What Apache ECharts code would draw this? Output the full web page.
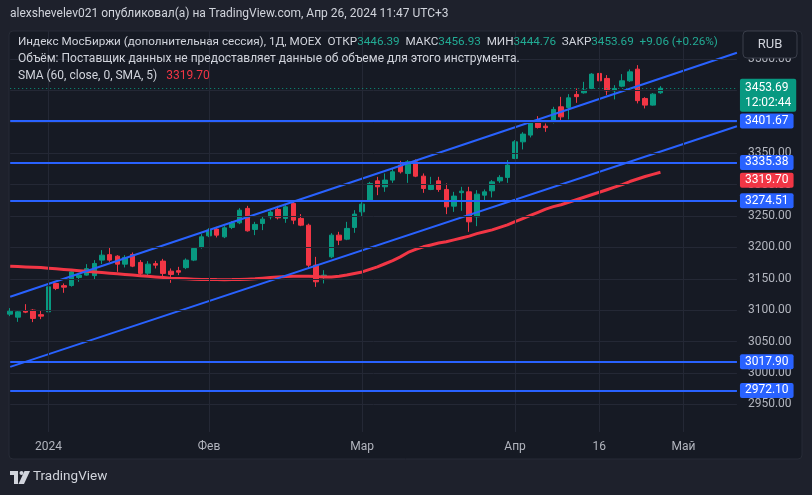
<!DOCTYPE html>
<html><head><meta charset="utf-8">
<script src="https://cdn.jsdelivr.net/npm/echarts@6/dist/echarts.min.js"></script>
<style>html,body{margin:0;padding:0;background:#1e212c;}#c{width:812px;height:495px;}</style>
</head><body><div id="c"></div>
<script>
// ---- categories (trading days; last 10 are empty future slots) ----
const categories = [
 '2023-12-25','2023-12-26','2023-12-27','2023-12-28','2023-12-29',
 '2024-01-03','2024-01-04','2024-01-05','2024-01-08','2024-01-09','2024-01-10','2024-01-11','2024-01-12',
 '2024-01-15','2024-01-16','2024-01-17','2024-01-18','2024-01-19','2024-01-22','2024-01-23','2024-01-24',
 '2024-01-25','2024-01-26','2024-01-29','2024-01-30','2024-01-31',
 '2024-02-01','2024-02-02','2024-02-05','2024-02-06','2024-02-07','2024-02-08','2024-02-09','2024-02-12',
 '2024-02-13','2024-02-14','2024-02-15','2024-02-16','2024-02-19','2024-02-20','2024-02-21','2024-02-22',
 '2024-02-26','2024-02-27','2024-02-28','2024-02-29',
 '2024-03-01','2024-03-04','2024-03-05','2024-03-06','2024-03-07','2024-03-11','2024-03-12','2024-03-13',
 '2024-03-14','2024-03-15','2024-03-18','2024-03-19','2024-03-20','2024-03-21','2024-03-22','2024-03-25',
 '2024-03-26','2024-03-27','2024-03-28','2024-03-29',
 '2024-04-01','2024-04-02','2024-04-03','2024-04-04','2024-04-05','2024-04-08','2024-04-09','2024-04-10',
 '2024-04-11','2024-04-12','2024-04-15','2024-04-16','2024-04-17','2024-04-18','2024-04-19','2024-04-22',
 '2024-04-23','2024-04-24','2024-04-25','2024-04-26',
 '2024-04-29','2024-04-30','2024-05-01','2024-05-02','2024-05-03','2024-05-06','2024-05-07','2024-05-08',
 '2024-05-09','2024-05-10'
];
const opens = [3093.7,3088.9,3099.3,3100.1,3092.9,3097.4,3142.6,3139.1,3139.4,3152.2,
 3155.9,3155.1,3179.8,3188.5,3186.1,3173.4,3188.8,3176.1,3159.0,3174.2,
 3178.2,3162.2,3163.0,3167.8,3179.8,3200.0,3218.5,3229.2,3216.9,3231.9,
 3239.2,3262.2,3228.7,3238.2,3248.8,3260.6,3246.2,3270.1,3246.2,3235.5,
 3171.8,3153.1,3185.0,3219.6,3213.2,3231.9,3256.7,3275.4,3306.1,3296.6,
 3307.3,3331.2,3317.9,3336.4,3313.6,3292.4,3306.1,3292.4,3265.8,3287.3,
 3288.6,3248.8,3283.3,3290.2,3306.1,3311.6,3341.8,3368.3,3379.0,3400.2,
 3393.3,3400.2,3424.1,3423.1,3443.8,3446.4,3453.4,3477.3,3469.3,3449.6,
 3457.0,3465.5,3484.1,3437.4,3426.8,3446.39];
const closes = [3098.5,3097.4,3096.9,3086.9,3090.5,3137.2,3134.7,3136.7,3161.1,3155.9,
 3166.2,3174.5,3187.7,3179.8,3173.4,3184.1,3170.2,3158.6,3173.4,3171.8,
 3158.6,3157.0,3160.6,3179.8,3198.4,3216.9,3227.6,3219.6,3231.2,3239.2,
 3259.4,3226.5,3236.7,3245.1,3256.3,3247.2,3264.7,3243.5,3235.5,3171.8,
 3145.2,3155.9,3219.6,3211.6,3230.3,3253.1,3269.0,3302.0,3296.6,3307.3,
 3320.5,3320.5,3336.4,3313.6,3294.0,3299.3,3292.4,3264.7,3281.8,3289.7,
 3240.8,3284.9,3288.6,3304.5,3311.6,3331.2,3368.3,3380.6,3398.6,3391.2,
 3390.9,3419.9,3408.1,3438.4,3440.3,3450.7,3476.2,3465.5,3449.6,3453.4,
 3465.5,3479.8,3433.9,3426.8,3444.3,3453.69];
const highs = [3103.3,3100.1,3109.6,3101.7,3100.1,3139.1,3143.7,3142.6,3163.8,3158.6,
 3173.4,3179.8,3195.7,3200.5,3187.7,3187.7,3192.0,3179.8,3178.2,3178.6,
 3181.8,3166.5,3169.1,3182.5,3200.5,3221.2,3230.8,3232.8,3233.9,3241.9,
 3262.6,3266.3,3240.8,3248.8,3259.4,3266.3,3267.4,3273.8,3253.1,3237.9,
 3185.0,3163.8,3222.8,3224.9,3240.8,3259.4,3272.2,3304.5,3312.5,3317.9,
 3325.9,3338.0,3339.1,3340.2,3317.9,3312.5,3312.5,3302.0,3288.6,3296.6,
 3296.6,3291.3,3292.4,3307.3,3315.2,3339.1,3371.0,3383.7,3402.9,3409.2,
 3397.6,3424.1,3440.0,3444.3,3453.4,3463.9,3477.8,3478.2,3474.6,3458.6,
 3476.2,3483.7,3490.5,3439.5,3445.9,3456.93];
const lows = [3090.5,3081.4,3095.3,3081.0,3085.7,3096.1,3132.0,3127.7,3137.5,3145.2,
 3155.1,3149.0,3173.4,3177.1,3161.1,3168.1,3168.6,3154.3,3154.3,3166.5,
 3153.1,3143.6,3155.9,3165.4,3178.2,3198.1,3216.4,3215.9,3214.8,3229.2,
 3237.1,3225.2,3219.6,3227.6,3244.6,3244.6,3239.2,3237.1,3233.9,3166.5,
 3137.2,3142.6,3182.9,3203.7,3211.6,3223.3,3248.8,3273.8,3283.3,3288.6,
 3302.9,3317.9,3302.9,3312.0,3287.0,3291.3,3288.6,3253.1,3256.7,3258.3,
 3224.9,3233.9,3275.4,3279.7,3302.9,3302.9,3340.7,3356.2,3375.3,3389.6,
 3384.2,3397.6,3400.2,3404.0,3430.4,3445.1,3452.3,3460.2,3442.7,3435.9,
 3455.4,3463.9,3429.5,3421.5,3426.0,3444.76];
const sma60 = [3170,3169.5,3169,3168.5,3168,3167,3166,3165,3164,3163,
 3162,3161,3160,3159,3158,3157,3156,3155,3154,3153,
 3152,3151,3150.5,3150,3149.5,3149,3149,3148.8,3148.7,3148.8,
 3149,3149.5,3150,3151,3152,3153,3153.5,3154,3154,3154,
 3153.5,3153,3153,3154,3156,3158.5,3161,3165,3169,3174,
 3179,3185,3192,3197,3201,3204,3207,3209,3212,3215,
 3218,3222,3225,3228,3232,3236,3241,3246,3251,3256,
 3261,3265,3268,3272,3276,3280,3284,3288,3292,3296,
 3300,3305,3309,3313,3316.5,3319.7];
// time-axis labels
const timeTickDates  = ['2024-01-03','2024-02-01','2024-03-01','2024-04-01','2024-04-16','2024-05-01'];
const timeTickLabels = ['2024','Фев','Мар','Апр','16','Май'];
// price scale
const priceMin = 2900, priceMax = 3550, priceStep = 50;
const priceTicks = [2950,3000,3050,3100,3150,3200,3250,3300,3350,3400,3450,3500];
const paneLow = 2905.9, paneHigh = 3544.9;
// horizontal drawn levels
const levelLines = [3401.67, 3335.38, 3274.51, 3017.90, 2972.10];
const lastPrice = 3453.69, lastTime = '12:02:44', smaLast = 3319.70;
// channel lines: [bar index, price]
const channelUpper = [[0, 3121.4], [95, 3510.3]];
const channelLower = [[0, 3009.7], [95, 3393.0]];

const GREEN = '#089981', RED = '#f23645', BLUE = '#2962ff';
const FONT = 'Roboto, "Liberation Sans", sans-serif';

const candleData = opens.map((o, i) => [o, closes[i], lows[i], highs[i]]);
const tickMap = {};
timeTickDates.forEach((d, i) => tickMap[d] = timeTickLabels[i]);

const chart = echarts.init(document.getElementById('c'), null, {renderer: 'canvas'});
const boxLabel = (bg, extra) => Object.assign({
  show: true, position: 'end', distance: 3, color: '#ffffff', fontSize: 12, fontFamily: FONT,
  backgroundColor: bg, padding: [2, 5, 1, 5], borderRadius: 2
}, extra || {});

chart.setOption({
  backgroundColor: '#1e212c',
  animation: false,
  textStyle: {fontFamily: FONT},
  grid: {left: 10.2, right: 75.05, top: 27.8, bottom: 59.3, containLabel: false},
  xAxis: {
    type: 'category', data: categories, boundaryGap: false,
    axisLine: {show: false}, axisTick: {show: false}, splitLine: {show: false},
    axisLabel: {
      interval: (idx, val) => tickMap[val] !== undefined,
      formatter: (val) => tickMap[val] || '',
      color: '#b2b5be', fontSize: 12, margin: 5, fontFamily: FONT
    }
  },
  yAxis: {
    type: 'value', position: 'right', min: priceMin, max: priceMax, interval: priceStep,
    axisLine: {show: false}, axisTick: {show: false}, splitLine: {show: false},
    axisLabel: {
      color: '#b2b5be', fontSize: 12, margin: 11, fontFamily: FONT,
      formatter: (v) => (v === priceMin || v === priceMax) ? '' : v.toFixed(2)
    }
  },
  series: [
    { // grid lines
      type: 'line', data: [], z: 1, silent: true,
      markLine: {
        silent: true, symbol: 'none', label: {show: false}, animation: false,
        lineStyle: {color: '#242835', width: 1, type: 'solid'},
        data: priceTicks.map(v => ({yAxis: v})).concat(
          timeTickDates.map(d => [{coord: [d, paneLow]}, {coord: [d, paneHigh]}]))
      }
    },
    {
      type: 'candlestick', data: candleData, barWidth: 5, clip: false, z: 2,
      itemStyle: {color: GREEN, color0: RED, borderColor: GREEN, borderColor0: RED, borderWidth: 1}
    },
    {
      type: 'line', data: sma60, showSymbol: false, symbol: 'none', z: 3, clip: false,
      lineStyle: {color: RED, width: 3}
    },
    {
      type: 'line', data: channelUpper.map(p => [categories[p[0]], p[1]]), showSymbol: false, symbol: 'none', z: 3, clip: false,
      lineStyle: {color: BLUE, width: 2}
    },
    {
      type: 'line', data: channelLower.map(p => [categories[p[0]], p[1]]), showSymbol: false, symbol: 'none', z: 3, clip: false,
      lineStyle: {color: BLUE, width: 2}
    },
    { // price levels & price-scale labels
      type: 'line', data: [], z: 5, silent: true,
      markLine: {
        silent: true, symbol: 'none', animation: false,
        data: levelLines.map(v => ({
          yAxis: v, lineStyle: {color: BLUE, width: 2, type: 'solid'},
          label: boxLabel(BLUE, {formatter: v.toFixed(2)})
        })).concat([
          {yAxis: lastPrice, lineStyle: {color: GREEN, width: 1, type: [1, 3]},
           label: boxLabel(GREEN, {formatter: lastPrice.toFixed(2) + '\n' + lastTime, lineHeight: 15, offset: [0, 7]})},
          {yAxis: smaLast, lineStyle: {color: 'rgba(0,0,0,0)', width: 1},
           label: boxLabel(RED, {formatter: smaLast.toFixed(2), offset: [0, 8]})}
        ])
      }
    }
  ],
  graphic: [
    {type: 'rect', z: -10, shape: {x: 9, y: 31, width: 793, height: 428, r: 4},
     style: {fill: '#161a24', stroke: '#272b36', lineWidth: 1}},
    {type: 'text', z: 50, x: 10, y: 8,
     style: {text: 'alexshevelev021 опубликовал(а) на TradingView.com, Апр 26, 2024 11:47 UTC+3', fill: '#d1d4dc', font: '12px ' + FONT}},
    {type: 'text', z: 50, x: 18, y: 36,
     style: {
       text: '{a|Индекс МосБиржи (дополнительная сессия), 1Д, MOEX  ОТКР}{g|3446.39}{a|  МАКС}{g|3456.93}{a|  МИН}{g|3444.76}{a|  ЗАКР}{g|3453.69}{g|  +9.06 (+0.26%)}',
       rich: {a: {fill: '#d1d4dc', fontSize: 11.7, fontFamily: FONT}, g: {fill: '#22ab94', fontSize: 11.7, fontFamily: FONT}}
     }},
    {type: 'text', z: 50, x: 18, y: 53,
     style: {text: 'Объём: Поставщик данных не предоставляет данные об объеме для этого инструмента.', fill: '#d1d4dc', font: '12px ' + FONT}},
    {type: 'text', z: 50, x: 18, y: 70,
     style: {
       text: '{a|SMA (60, close, 0, SMA, 5)   }{r|3319.70}',
       rich: {a: {fill: '#d1d4dc', fontSize: 12, fontFamily: FONT}, r: {fill: RED, fontSize: 12, fontFamily: FONT}}
     }},
    {type: 'rect', z: 60, shape: {x: 743, y: 31, width: 54, height: 27, r: 4},
     style: {fill: '#161a24', stroke: '#3a3e4a', lineWidth: 1}},
    {type: 'text', z: 61, x: 770, y: 44.5,
     style: {text: 'RUB', fill: '#d1d4dc', font: '13px ' + FONT, align: 'center', verticalAlign: 'middle'}},
    {type: 'group', z: 50, x: 10, y: 471, children: [
      {type: 'rect', shape: {x: 0, y: 0, width: 8, height: 4}, style: {fill: '#d1d4dc'}},
      {type: 'rect', shape: {x: 4, y: 0, width: 4, height: 13}, style: {fill: '#d1d4dc'}},
      {type: 'circle', shape: {cx: 11.5, cy: 2, r: 2}, style: {fill: '#d1d4dc'}},
      {type: 'polygon', shape: {points: [[14.5, 0], [20, 0], [14, 13], [8.5, 13]]}, style: {fill: '#d1d4dc'}}
    ]},
    {type: 'text', z: 50, x: 33, y: 470, style: {text: 'TradingView', fill: '#d1d4dc', font: '13.5px ' + FONT}}
  ]
});
</script></body></html>
